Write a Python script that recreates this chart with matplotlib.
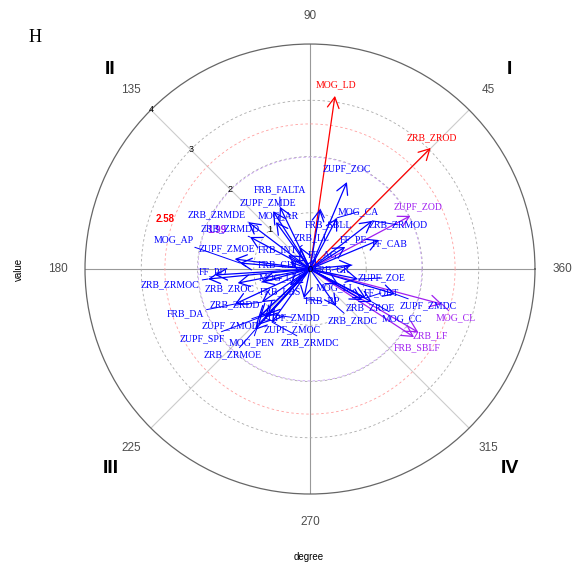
import matplotlib
matplotlib.use("Agg")
import matplotlib.pyplot as plt
import numpy as np

# arrow names, direction (degree) and length (value)
names = ['MOG_LD', 'ZRB_ZROD', 'ZUPF_ZOD', 'MOG_CL', 'ZRB_LF', 'FRB_SBLF',
         'ZUPF_ZOC', 'FRB_SBLL', 'MOG_CA', 'ZRB_ZRMOD', 'FF_CAB', 'FF_PE',
         'ZRB_LL', 'FF_AG', 'FRB_CR', 'ZUPF_ZOE', 'MOG_LL', 'FF_OBT',
         'ZRB_ZROE', 'ZUPF_ZMDC', 'MOG_CC', 'ZRB_ZRDC', 'FRB_RP', 'ZUPF_ZMDD',
         'ZUPF_ZMOC', 'ZRB_ZRMDC', 'MOG_PEN', 'ZRB_ZRMOE', 'ZUPF_SPF', 'ZUPF_ZMOD',
         'FRB_DA', 'ZRB_ZRDD', 'FRB_LBS', 'MOG_LLL', 'ZRB_ZRMOC', 'FF_PD',
         'ZRB_ZROC', 'FRB_CHL', 'FRB_INT', 'ZUPF_ZMOE', 'MOG_AP', 'ZRB_ZRMDD',
         'ZRB_ZRMDE', 'MOG_AR', 'ZUPF_ZMDE', 'FRB_FALTA']
degree = [81.8, 45.1, 27.9, 345.1, 329.7, 326.8,
          67.0, 80.5, 62.1, 37.7, 22.8, 32.1,
          114.5, 61.4, 5.4, 348.2, 331.8, 332.6,
          329.2, 343.6, 332.0, 305.1, 258.3, 227.0,
          227.4, 234.4, 227.1, 227.9, 223.3, 223.2,
          205.0, 214.5, 218.7, 195.1, 185.6, 183.6,
          191.0, 160.6, 147.5, 172.4, 175.1, 151.9,
          142.8, 125.9, 122.5, 115.8]
value = [3.11, 3.04, 2.02, 2.43, 2.23, 2.21,
         1.68, 1.08, 1.03, 1.40, 1.33, 0.74,
         0.43, 0.22, 0.75, 0.87, 0.57, 1.12,
         1.08, 1.58, 1.25, 0.81, 0.53, 1.10,
         1.18, 1.16, 1.36, 1.46, 1.27, 1.22,
         1.47, 1.04, 0.46, 0.89, 1.82, 1.69,
         1.31, 0.38, 0.46, 1.35, 1.25, 1.21,
         1.38, 1.03, 1.22, 1.23]

# label nudges in pixels (right, down) so the names don't pile up
label_dx = [1, 1, 8, 14, 12, 3, 0, 8, 21, 26, 11, 8, 12, 7, -20, 24, -3, 15,
            8, 33, 30, 16, 18, 24, 27, 38, -6, -22, -56, -30, -50, -27, -9, 20,
            -38, -2, -8, -11, -11, -8, -66, -20, -32, 2, -5, 0]
label_dy = [-11, -10, -9, 14, 3, 11, -13, 16, -6, 4, 4, -7, -9, -3, 5, -1, 4, -5,
            8, 12, 17, 14, 3, 3, 12, 21, 18, 25, 21, 10, 10, 3, 7, -4,
            6, -3, 6, 3, -5, -10, -23, -8, -7, -6, -8, -17]

thr_high = 2.58
thr_low = 1.99
grid_r = [1, 2, 3]
angle_ticks = [45, 90, 135, 180, 225, 270, 315, 360]
quadrants = ['I', 'II', 'III', 'IV']


def pick_color(v):
    if v > thr_high:
        return 'red'
    if v > thr_low:
        return '#A020F0'
    return 'blue'


fig = plt.figure(figsize=(5.72, 5.66), dpi=100)
ax = fig.add_axes([0.1486, 0.1272, 0.7867, 0.795], projection='polar')
ax.set_ylim(0, 4)
ax.set_xticks([])
ax.set_yticks([])
ax.grid(False)
ax.spines['polar'].set_color('#666666')
ax.spines['polar'].set_linewidth(0.9)

# spokes
for a in range(0, 360, 45):
    col = '#999999' if a % 90 == 0 else '#cccccc'
    ax.plot([np.deg2rad(a)] * 2, [0, 4], color=col, lw=0.8, zorder=1)

# reference circles
th = np.linspace(0, 2 * np.pi, 400)
for r in grid_r:
    ax.plot(th, np.full_like(th, r), color='#aaaaaa', lw=0.6, ls=(0, (3, 3)), zorder=1)
ax.plot(th, np.full_like(th, thr_high), color='#ff9f9f', lw=0.6, ls=(0, (3, 3)), zorder=1)
ax.plot(th, np.full_like(th, thr_low), color='#c9a0f5', lw=0.6, ls=(0, (3, 3)), zorder=1)

# radial tick labels along 135 degrees
for r in [0, 1, 2, 3, 4]:
    ax.text(np.deg2rad(135), r, str(r), fontsize=6.5, ha='center', va='center',
            family='Liberation Sans', color='black', zorder=5)

ax.text(np.deg2rad(161), 2.73, '%.2f' % thr_high, color='red', fontsize=7,
        fontweight='bold', ha='center', va='center', family='Liberation Sans')
ax.text(np.deg2rad(157.5), 1.79, '%.2f' % thr_low, color='#A020F0', fontsize=7,
        fontweight='bold', ha='center', va='center', family='Liberation Sans')

# angle labels and quadrant numerals
for a in angle_ticks:
    ax.text(np.deg2rad(a), 4.49, str(a), fontsize=8.5, color='#4d4d4d',
            ha='center', va='center', family='Liberation Sans')
for i, q in enumerate(quadrants):
    ax.text(np.deg2rad(45 + 90 * i), 5.02, q, fontsize=14, fontweight='bold',
            ha='center', va='center', family='Liberation Sans')

# arrows and names
for n, d, v, dx, dy in zip(names, degree, value, label_dx, label_dy):
    c = pick_color(v)
    t = np.deg2rad(d)
    ax.annotate('', xy=(t, v), xytext=(0, 0),
                arrowprops=dict(arrowstyle='->, head_length=0.55, head_width=0.3',
                                color=c, lw=0.9, shrinkA=0, shrinkB=0,
                                mutation_scale=14))
    seg = None
    if np.hypot(dx, dy) > 14:
        seg = dict(arrowstyle='-', color=c, lw=0.7, shrinkA=0, shrinkB=0)
    ax.annotate(n, xy=(t, v), xytext=(dx, -dy), textcoords='offset pixels',
                ha='center', va='center', fontsize=7, color=c,
                family='Liberation Serif', arrowprops=seg, zorder=6)

fig.text(35 / 572, 1 - 37 / 566, 'H', fontsize=13, family='Liberation Serif',
         ha='center', va='center')
fig.text(19 / 572, 1 - 269 / 566, 'value', fontsize=7, rotation=90,
         ha='center', va='center', family='Liberation Sans')
fig.text(309 / 572, 1 - 557 / 566, 'degree', fontsize=7,
         ha='center', va='center', family='Liberation Sans')

fig.savefig('out.png', dpi=100)
